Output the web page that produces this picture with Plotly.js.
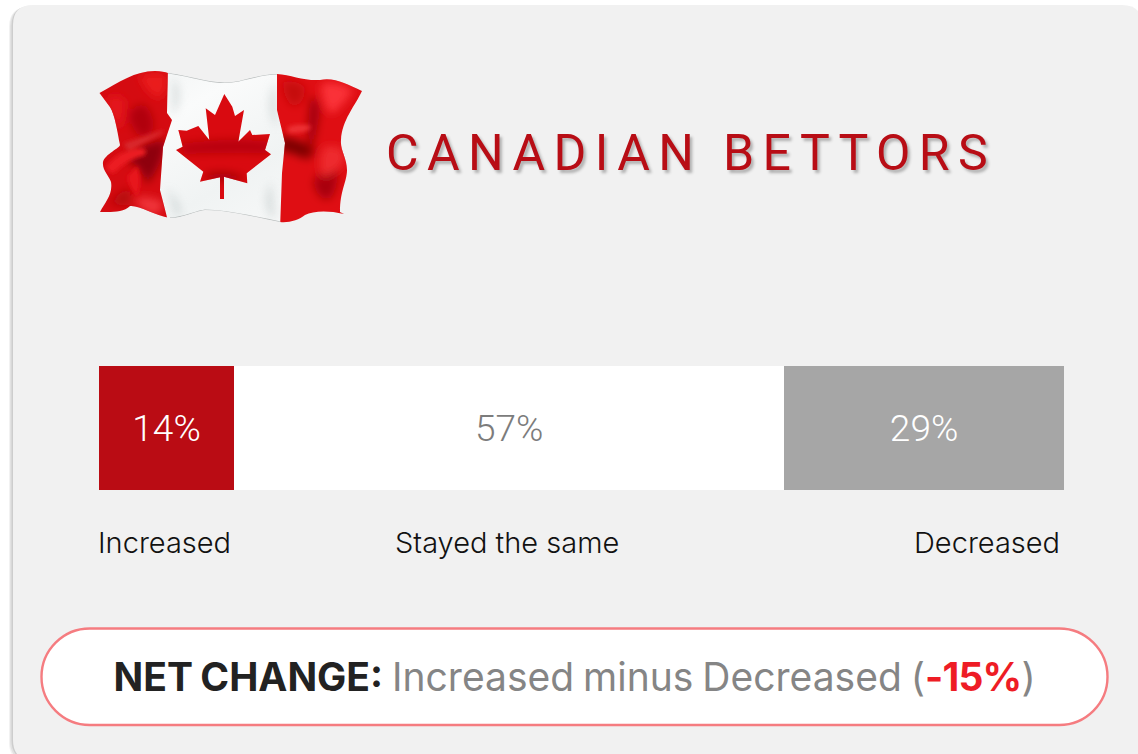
<!DOCTYPE html>
<html><head><meta charset="utf-8">
<script src="https://cdn.plot.ly/plotly-3.0.1.min.js"></script>
<style>html,body{margin:0;padding:0;background:#fff;overflow:hidden}#c{width:1138px;height:754px}</style></head>
<body><div id="c"></div>
<script>
const categories = ["Increased", "Stayed the same", "Decreased"];
const shares = [14, 57, 29];
const barColors = ["#BA0C14", "#FFFFFF", "#A6A6A6"];
const shareTextColors = ["#FFFFFF", "#7C7C7C", "#FFFFFF"];
const titleText = "CANADIAN BETTORS";
const netLabel = "NET CHANGE:";
const netDescription = "Increased minus Decreased";
const netValue = -15;

const W = 1138, H = 754;
const px = x => x / W, py = y => 1 - y / H;
function rr(x0, y0, x1, y1, r) {
  return `M${px(x0 + r)},${py(y0)} L${px(x1 - r)},${py(y0)} Q${px(x1)},${py(y0)} ${px(x1)},${py(y0 + r)} ` +
    `L${px(x1)},${py(y1 - r)} Q${px(x1)},${py(y1)} ${px(x1 - r)},${py(y1)} L${px(x0 + r)},${py(y1)} ` +
    `Q${px(x0)},${py(y1)} ${px(x0)},${py(y1 - r)} L${px(x0)},${py(y0 + r)} Q${px(x0)},${py(y0)} ${px(x0 + r)},${py(y0)} Z`;
}
function pill(x0, y0, x1, y1) {
  const r = (y1 - y0) / 2, k = r * 0.5523;
  return `M${px(x0 + r)},${py(y0)} L${px(x1 - r)},${py(y0)} C${px(x1 - r + k)},${py(y0)} ${px(x1)},${py(y0 + r - k)} ${px(x1)},${py(y0 + r)} ` +
    `C${px(x1)},${py(y0 + r + k)} ${px(x1 - r + k)},${py(y1)} ${px(x1 - r)},${py(y1)} L${px(x0 + r)},${py(y1)} ` +
    `C${px(x0 + r - k)},${py(y1)} ${px(x0)},${py(y0 + r + k)} ${px(x0)},${py(y0 + r)} C${px(x0)},${py(y0 + r - k)} ${px(x0 + r - k)},${py(y0)} ${px(x0 + r)},${py(y0)} Z`;
}

const outline = "M0.5,23 C20,12 36,1 56,1 C62,1 66,2 69,3 C95,6 115,16 140,11 C152,8 165,4 178,4 C192,5 205,11 221,10 C235,7 248,14 263,21 C256,36 243,50 242,70 C241,80 248,88 248,100 C248,112 241,120 241,142 L245,144 C228,140 214,141 206,145 C200,150 190,153 181,152 C160,148 130,140 106,140 C96,141 84,148 71,148 C55,145 40,135 31,136 C24,143 12,142 1,142 C6,132 14,125 12,112 C10,106 3,100 4,92 C6,84 21,78 21,75 C18,60 16,45 11,37 Z";
const flagSvg = `<svg xmlns="http://www.w3.org/2000/svg" width="264" height="154" viewBox="0 0 264 154">
<defs>
<linearGradient id="w" x1="0" y1="0" x2="1" y2="1">
<stop offset="0" stop-color="#eef1f1"/><stop offset=".3" stop-color="#fafbfb"/><stop offset=".6" stop-color="#f0f3f3"/><stop offset="1" stop-color="#fcfcfc"/></linearGradient>
<filter id="b" x="-60%" y="-60%" width="220%" height="220%"><feGaussianBlur stdDeviation="4.5"/></filter>
<filter id="b2" x="-60%" y="-60%" width="220%" height="220%"><feGaussianBlur stdDeviation="2"/></filter>
<clipPath id="cl"><path d="${outline}"/></clipPath>
<clipPath id="lf"><path d="M-5,-5 H69 L68,43 L73,50 L64,77 L61,120 L70,155 H-5 Z"/></clipPath>
<clipPath id="rt"><path d="M178,-5 H270 V160 H181 L183,103 L186,73 L178,40 Z"/></clipPath>
<clipPath id="leaf"><path d="M125.3,24 L133.3,36.7 L136,46 L145,40 L139.3,71.7 L151,60 L153.3,65 L171,64 L166,80 L172,84.3 L147.7,103.3 L148.3,113.3 L125,106.7 L125,129 L121,129 L121,107.3 L101,111.7 L104.3,101.7 L77,80 L83.7,76.7 L79.3,60 L87.7,60.7 L99.3,56 L110.3,70 L106.7,38.3 L116,45 Z"/></clipPath>
</defs>
<g clip-path="url(#cl)">
<rect x="-5" y="-5" width="275" height="165" fill="url(#w)"/>
<g filter="url(#b)" opacity=".55">
<path d="M74,8 C84,20 80,36 74,46 Z M176,12 C168,30 170,46 178,58 Z M68,118 C78,130 86,138 78,148 Z M172,112 C164,128 166,142 176,150 Z" fill="#bcc5c5"/>
</g>
<g clip-path="url(#lf)">
<rect x="-5" y="-5" width="80" height="165" fill="#D50B11"/>
<g filter="url(#b)">
<path d="M30,44 C38,32 46,32 50,40 C56,50 56,60 50,66 C42,70 32,62 30,44 Z" fill="#B10609"/>
<path d="M40,6 C50,2 64,2 68,6 C68,16 66,28 58,28 C50,24 44,16 40,6 Z" fill="#EA1A1F"/>
<path d="M6,30 C14,24 24,24 26,32 C26,44 24,54 20,60 C14,50 10,40 6,30 Z" fill="#E4161B"/>
<path d="M26,88 C38,76 52,72 66,70 C66,84 60,100 48,114 C44,102 36,94 26,88 Z" fill="#8E0407"/>
<path d="M36,128 C46,126 56,128 64,132 C64,140 60,146 52,144 C44,140 38,136 36,128 Z" fill="#F0343A"/>
<path d="M10,134 C16,126 24,120 30,118 C32,124 32,130 30,136 Z" fill="#B50709"/>
</g>
<g filter="url(#b2)">
<path d="M6,98 C16,84 30,78 44,78 C48,80 48,84 44,86 C34,88 24,94 14,104 Z" fill="#EC1C21"/>
<path d="M24,74 C36,70 50,64 66,60 C64,64 52,70 30,80 Z" fill="#D92A2E"/>
<path d="M28,108 C32,102 36,98 38,96 C42,106 42,116 38,126 C34,122 30,114 28,108 Z" fill="#E8171C"/>
</g>
</g>
<g clip-path="url(#rt)">
<rect x="175" y="-5" width="95" height="165" fill="#DF0E13"/>
<g filter="url(#b)">
<path d="M180,66 C194,68 206,72 216,78 C216,84 212,90 204,88 C196,84 188,82 180,80 Z" fill="#7E0305"/>
<path d="M212,26 C218,28 222,36 220,48 C218,62 214,78 210,92 C208,72 208,46 212,26 Z" fill="#A30608"/>
<path d="M214,112 C220,102 228,92 236,90 C240,102 240,116 232,128 C226,132 218,128 214,112 Z" fill="#A90608"/>
<path d="M222,14 C232,10 246,14 254,20 C248,30 240,40 232,44 C226,38 222,28 222,14 Z" fill="#FA3337"/>
<path d="M224,78 C232,74 242,76 246,84 C246,94 240,100 224,108 C220,98 220,88 224,78 Z" fill="#EE2A2E"/>
<path d="M184,12 C192,10 202,12 206,18 C206,28 202,36 194,36 C188,32 184,24 184,12 Z" fill="#C60A0E"/>
</g>
<g filter="url(#b2)">
<path d="M188,58 C196,54 204,54 212,56 C212,60 206,63 190,63 Z" fill="#EE3236"/>
</g>
</g>
<g clip-path="url(#leaf)">
<rect x="70" y="20" width="110" height="115" fill="#D90A10"/>
<g filter="url(#b)">
<path d="M80,74 C110,70 140,68 172,72 C172,78 170,82 164,84 C140,82 110,84 86,84 Z" fill="#B80609"/>
<path d="M106,104 C120,100 136,102 148,108 C136,112 120,112 106,108 Z" fill="#A50507"/>
</g>
</g>
<path d="M69,3 C95,6 115,16 140,11 C152,8 165,4 178,4 M71,148 C84,148 96,141 106,140 C130,140 160,148 181,152" fill="none" stroke="#b8bcbc" stroke-width="1.2"/>
</g>
</svg>`;

const data = shares.map((v, i) => ({
  type: "bar", orientation: "h",
  y: ["share"], x: [v],
  marker: { color: barColors[i], line: { width: 0 } },
  text: [v + "%"], textposition: "inside", insidetextanchor: "middle",
  textangle: 0,
  textfont: { family: "Roboto, sans-serif", size: 37, weight: 300, color: shareTextColors[i] },
  hoverinfo: "skip", showlegend: false
}));

const labelFont = { family: "Inter, sans-serif", size: 29, weight: 300, color: "#111111" };
const layout = {
  width: W, height: H, margin: { l: 0, r: 0, t: 0, b: 0, pad: 0 },
  paper_bgcolor: "#FFFFFF", plot_bgcolor: "rgba(0,0,0,0)",
  barmode: "stack", bargap: 0, showlegend: false,
  xaxis: { domain: [px(99), px(1064)], range: [0, 100], visible: false, fixedrange: true },
  yaxis: { domain: [py(490), py(366)], visible: false, fixedrange: true },
  shapes: [
    { type: "path", xref: "paper", yref: "paper", layer: "below", path: rr(9, 7, 1142, 762, 20), fillcolor: "#F2F2F2", line: { width: 0 } },
    { type: "path", xref: "paper", yref: "paper", layer: "below", path: rr(10, 7, 1142, 761, 20), fillcolor: "#E2E2E2", line: { width: 0 } },
    { type: "path", xref: "paper", yref: "paper", layer: "below", path: rr(11.5, 6, 1142, 760, 20), fillcolor: "#CDCDCD", line: { width: 0 } },
    { type: "path", xref: "paper", yref: "paper", layer: "below", path: rr(13, 5, 1142, 760, 20), fillcolor: "#F1F1F1", line: { width: 0 } },
    { type: "path", xref: "paper", yref: "paper", layer: "below", path: pill(41.5, 628.5, 1107.5, 725), fillcolor: "#FFFFFF", line: { color: "#F57C80", width: 2.4 } }
  ],
  images: [{
    source: "data:image/svg+xml;base64," + btoa(flagSvg),
    xref: "paper", yref: "paper", x: px(99), y: py(70), sizex: 264 / W, sizey: 154 / H,
    xanchor: "left", yanchor: "top", sizing: "stretch", layer: "above"
  }],
  annotations: [
    { xref: "paper", yref: "paper", x: px(383.5), y: py(153), xanchor: "left", yanchor: "middle", showarrow: false, align: "left",
      text: titleText,
      font: { family: "Roboto, sans-serif", size: 50, weight: 400, color: "#B80D15", shadow: "2.5px 2.5px 3px #b0b0b0" } },
    { xref: "paper", yref: "paper", x: px(96), y: py(542), xanchor: "left", yanchor: "middle", showarrow: false, text: categories[0], font: labelFont },
    { xref: "paper", yref: "paper", x: px(507), y: py(542), xanchor: "center", yanchor: "middle", showarrow: false, text: categories[1], font: labelFont },
    { xref: "paper", yref: "paper", x: px(1062), y: py(542), xanchor: "right", yanchor: "middle", showarrow: false, text: categories[2], font: labelFont },
    { xref: "paper", yref: "paper", x: px(574.5), y: py(676.5), xanchor: "center", yanchor: "middle", showarrow: false,
      text: `<span style="color:#222222"><b>${netLabel}</b></span> ${netDescription} (<span style="color:#EE1C25"><b>${netValue}%</b></span>)`,
      font: { family: "Inter, sans-serif", size: 39, weight: 400, color: "#858585" } }
  ]
};

Plotly.newPlot("c", data, layout, { displayModeBar: false, staticPlot: true }).then(() => {
  document.querySelectorAll(".annotation-text").forEach(t => {
    if (t.textContent === titleText) t.style.letterSpacing = "8.4px";
    if (t.textContent.indexOf(netLabel) === 0) {
      t.style.wordSpacing = "-2px";
      t.querySelectorAll("tspan").forEach(s => { if (s.textContent === netValue + "%") s.style.letterSpacing = "-0.8px"; });
    }
  });
});
</script></body></html>
